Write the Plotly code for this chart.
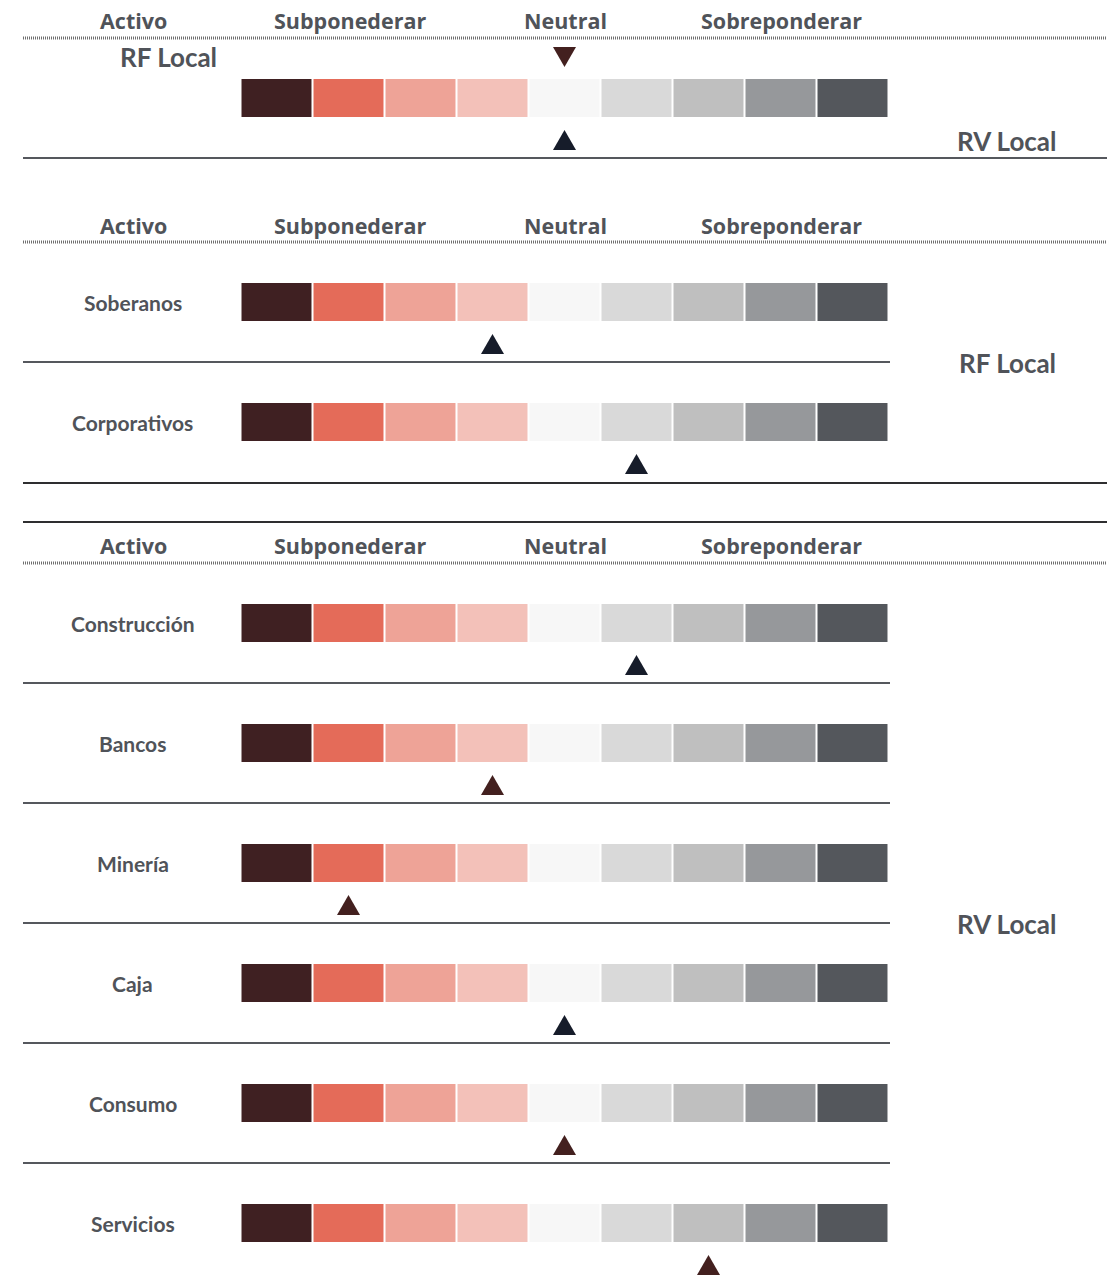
import plotly.graph_objects as go

# Rating scale: 9 steps from strong underweight to strong overweight
scale_colors = ["#3f2022", "#e46b59", "#eea397", "#f3c1b9", "#f7f7f7",
                "#d9d9d9", "#bfbfbf", "#96989b", "#54575c"]
scale_steps = list(range(9))

header_labels = ["Activo", "Subponederar", "Neutral", "Sobreponderar"]
header_steps = [None, 1, 4, 7]

# Top panel: asset class view
class_names = ["RF Local", "RV Local"]
class_positions = [4, 4]
class_colors = ["#43201f", "#161c2a"]

# Fixed income detail
rf_assets = ["Soberanos", "Corporativos"]
rf_positions = [3, 5]
rf_colors = ["#161c2a", "#161c2a"]

# Equity detail
rv_assets = ["Construcción", "Bancos", "Minería", "Caja", "Consumo", "Servicios"]
rv_positions = [5, 3, 1, 4, 4, 6]
rv_colors = ["#161c2a", "#43201f", "#43201f", "#161c2a", "#43201f", "#43201f"]

W, H = 1107, 1280
PITCH = 72          # px per scale step
X0 = 276.5          # px centre of first step
x_range = [(0 - X0) / PITCH, (W - X0) / PITCH]
LABEL_X = -2.0      # step coordinate of the left label column
RIGHT_X = 10.15     # step coordinate of the right group labels
TRI_HALF = 11.5 / PITCH   # half width of the pointer triangle, in steps
TRI_H = 20                # pointer height, px

TXT = "#505359"
ROW_PITCH = 120
CELL_H = 38

fig = go.Figure()
shapes = []
annotations = []


def add_scale(top):
    fig.add_trace(go.Bar(
        x=scale_steps, y=[CELL_H] * len(scale_steps), base=[top] * len(scale_steps),
        width=0.972, marker=dict(color=scale_colors, line=dict(width=0)),
        showlegend=False, hoverinfo="skip"))


def add_pointer(step, base_y, color, up=True):
    # filled triangle centred on the rated step; apex points to the scale
    apex_y = base_y - TRI_H if up else base_y + TRI_H
    fig.add_trace(go.Scatter(
        x=[step - TRI_HALF, step + TRI_HALF, step, step - TRI_HALF],
        y=[base_y, base_y, apex_y, base_y],
        mode="lines", fill="toself", fillcolor=color,
        line=dict(width=0, color=color),
        showlegend=False, hoverinfo="skip"))


def hline(y, x1_px, color, width=2, dash="solid"):
    shapes.append(dict(type="line", xref="paper", yref="y",
                       x0=23 / W, x1=x1_px / W, y0=y, y1=y,
                       line=dict(color=color, width=width, dash=dash)))


def dotted(y):
    hline(y, W, "#6f6f6f", width=3, dash="1px,1px")


def text(x, y, s, size, family="Lato"):
    annotations.append(dict(x=x, y=y, xref="x", yref="y", text=f"<b>{s}</b>",
                            showarrow=False, xanchor="center", yanchor="middle",
                            font=dict(family=family, size=size, color=TXT)))


def header(y):
    for lab, st in zip(header_labels, header_steps):
        text(LABEL_X + 0.01 if st is None else st + 0.02, y, lab, 21.5, "Open Sans")


# ---- Section 1: asset classes ----
header(20)
dotted(38)
text(LABEL_X + 0.5, 57, class_names[0], 26)
add_pointer(class_positions[0], 47, class_colors[0], up=False)
add_scale(79)
add_pointer(class_positions[1], 150, class_colors[1])
text(RIGHT_X, 141, class_names[1], 26)
hline(158, W, "#55585d")

# ---- Section 2: fixed income ----
header(225)
dotted(242)
rf_top = 283
for i, (name, pos, col) in enumerate(zip(rf_assets, rf_positions, rf_colors)):
    top = rf_top + i * ROW_PITCH
    text(LABEL_X, top + 19, name, 21)
    add_scale(top)
    add_pointer(pos, top + 71, col)
    if i < len(rf_assets) - 1:
        hline(top + 79, 890, "#55585d")
hline(483, W, "#2e2e30")
text(RIGHT_X, 363, "RF Local", 26)

# ---- Section 3: equities ----
hline(522, W, "#2e2e30")
header(545)
dotted(563)
rv_top = 604
for i, (name, pos, col) in enumerate(zip(rv_assets, rv_positions, rv_colors)):
    top = rv_top + i * ROW_PITCH
    text(LABEL_X, top + 19, name, 21)
    add_scale(top)
    add_pointer(pos, top + 71, col)
    if i < len(rv_assets) - 1:
        hline(top + 79, 890, "#55585d")
text(RIGHT_X, 924, "RV Local", 26)

fig.update_layout(
    width=W, height=H, margin=dict(l=0, r=0, t=0, b=0),
    paper_bgcolor="white", plot_bgcolor="white",
    xaxis=dict(range=x_range, visible=False, fixedrange=True),
    yaxis=dict(range=[H, 0], visible=False, fixedrange=True),
    barmode="overlay", shapes=shapes, annotations=annotations,
)

fig.write_html("out.html")
